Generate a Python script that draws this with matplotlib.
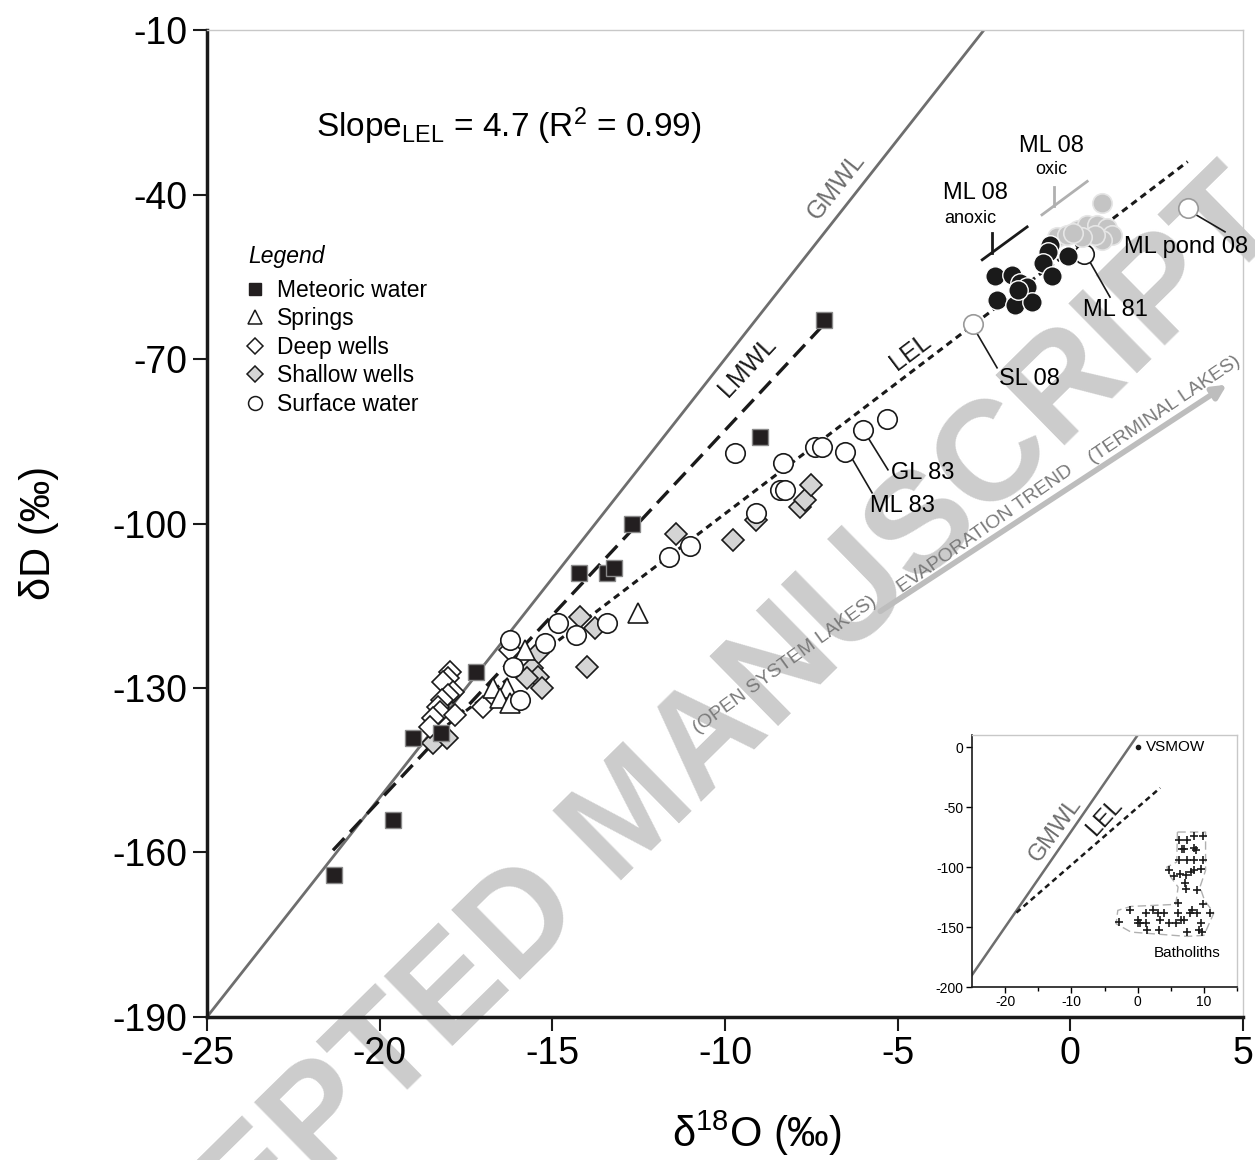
import numpy as np
import matplotlib.pyplot as plt
from matplotlib.lines import Line2D

plt.rcParams['font.family'] = ['Liberation Sans', 'DejaVu Sans']
plt.rcParams['mathtext.fontset'] = 'custom'
plt.rcParams['mathtext.rm'] = 'Liberation Sans'
plt.rcParams['mathtext.it'] = 'Liberation Sans:italic'
plt.rcParams['axes.unicode_minus'] = False

# ---- data (d18O, dD) ----
met_x = [-21.32, -19.61, -19.03, -18.22, -17.21, -14.23, -13.42, -13.21, -12.69, -8.99, -7.13]
met_y = [-164.1, -154.1, -139.1, -138.2, -127.1, -109.0, -109.0, -108.1, -100.1, -84.2, -62.9]

spr_x = [-15.79, -16.72, -16.31, -16.51, -16.23, -12.52]
spr_y = [-123.1, -130.0, -130.0, -131.8, -132.7, -116.3]

deep_x = [-17.96, -18.02, -18.17, -17.88, -18.02, -18.19, -18.31, -18.25, -17.82, -18.45, -18.54, -17.01, -16.23]
deep_y = [-127.1, -128.2, -128.9, -130.7, -131.3, -132.2, -133.5, -134.4, -134.9, -135.5, -137.1, -133.5, -123.1]

shal_x = [-18.45, -18.05, -14.20, -13.76, -15.41, -15.59, -15.41, -15.30, -15.73, -14.00,
          -11.42, -9.77, -9.10, -7.83, -7.68, -7.51]
shal_y = [-140.0, -139.1, -117.1, -119.1, -123.6, -126.4, -128.0, -130.0, -128.2, -126.2,
          -101.9, -103.0, -99.4, -97.0, -95.7, -93.0]

surf_x = [-16.23, -15.21, -14.83, -14.31, -13.42, -16.14, -15.94, -11.62, -11.01, -9.71,
          -9.10, -8.41, -8.26, -8.32, -7.39, -7.19, -6.52, -6.00, -5.31, -2.82, 0.40, 3.41]
surf_y = [-121.3, -121.8, -118.2, -120.3, -118.2, -126.2, -132.2, -106.1, -104.1, -87.1,
          -98.1, -93.9, -93.9, -89.0, -86.1, -86.1, -87.0, -83.0, -80.9, -63.6, -50.9, -42.5]

anox_x = [-0.59, -0.64, -0.06, -0.79, -0.53, -2.18, -1.69, -1.46, -1.25, -2.12, -1.60, -1.11, -1.51]
anox_y = [-49.2, -50.5, -51.2, -52.5, -54.9, -54.9, -54.7, -56.1, -56.9, -59.2, -60.2, -59.6, -57.4]

oxic_x = [0.92, -0.38, -0.09, 0.22, 0.48, 0.77, 1.06, 1.21, 0.92, 0.72, 0.34, 0.08]
oxic_y = [-41.6, -47.8, -47.4, -46.5, -45.6, -45.6, -46.1, -47.4, -48.3, -47.4, -47.8, -47.0]

lmwl_x = [-21.35, -6.96]
lmwl_y = [-159.6, -62.5]
lel_x = [-18.3, 3.4]
lel_y = [-138.0, -34.0]
gmwl_x = np.array([-25.0, 0.0])
gmwl_y = 8 * gmwl_x + 10

# labelled samples: (name, text x, text y, leader start, leader end)
labels = [
    ('ML pond 08', 3.35, -49.6, (3.56, -43.4), (4.48, -46.8)),
    ('ML 81', 1.32, -61.1, (0.57, -52.3), (1.15, -58.7)),
    ('SL 08', -1.17, -73.7, (-2.76, -64.7), (-2.12, -71.6)),
    ('ML 83', -4.87, -96.8, (-6.38, -87.5), (-5.74, -94.4)),
    ('GL 83', -4.26, -90.8, (-5.94, -83.5), (-5.28, -90.2)),
]

# inset: batholith samples
bath_x = [6.25, 7.4, 8.5, 9.9, 6.75, 7.0, 8.5, 8.85, 6.25, 7.4, 8.5, 9.9, 4.75, 5.5, 6.4, 7.25,
          8.0, 8.5, 9.5, 7.1, 7.25, 8.9, -1.1, 1.25, 2.25, 3.0, 3.9, -2.75, 0.1, 0.4, 1.25, 3.4,
          4.75, 5.75, 6.1, 6.1, 6.5, 7.0, 7.9, 8.25, 9.0, 9.9, 10.9, 9.6, 9.25, 9.75, 7.4, 3.25,
          1.4, 0.0]
bath_y = [-77.2, -77.2, -74.4, -74.4, -84.7, -84.7, -83.9, -85.6, -93.9, -93.9, -93.9, -93.9,
          -102.2, -107.8, -106.1, -106.4, -104.2, -102.2, -101.4, -113.3, -118.1, -118.9,
          -135.6, -138.3, -135.6, -138.3, -138.3, -145.8, -144.4, -146.7, -146.7, -144.4,
          -146.7, -146.7, -138.3, -130.0, -144.4, -144.4, -138.3, -135.6, -138.3, -130.6,
          -138.3, -146.7, -152.2, -154.2, -154.2, -152.2, -152.2, -146.7]
bath_out_x = [6.0, 10.25, 10.25, 9.4, 10.1, 11.5, 10.0, 7.5, -1.0, -3.25, -3.0, -1.0, 5.75, 6.1,
              5.0, 4.4, 5.9, 6.0]
bath_out_y = [-70.8, -70.8, -102.8, -116.7, -127.8, -138.3, -156.9, -157.8, -154.2, -147.2,
              -136.1, -132.8, -131.1, -116.7, -108.3, -100.0, -95.8, -70.8]

fig = plt.figure(figsize=(12.55, 11.6), dpi=100)
ax = fig.add_axes([0.1649, 0.1233, 0.8255, 0.8508])
ax.set_facecolor('none')

# watermark
fig.text(0.505, 0.296, 'ACCEPTED MANUSCRIPT', rotation=44.5, rotation_mode='anchor',
         ha='center', va='center', fontsize=102, weight='bold', color='#cccccc', zorder=-1)

# reference lines
ax.plot(gmwl_x, gmwl_y, color='#6e6e6e', lw=2, zorder=2)
ax.plot(lmwl_x, lmwl_y, color='#1a1a1a', lw=2.4, ls=(0, (5, 2.5)), zorder=2)
ax.plot(lel_x, lel_y, color='#1a1a1a', lw=2.2, ls=(0, (2.2, 1.6)), zorder=2)

# points
ax.plot(shal_x, shal_y, 'D', ms=11, mfc='#d4d4d4', mec='#1a1a1a', mew=1.2, ls='none', zorder=3)
ax.plot(deep_x, deep_y, 'D', ms=11, mfc='white', mec='#1a1a1a', mew=1.2, ls='none', zorder=3)
ax.plot(spr_x, spr_y, '^', ms=14, mfc='white', mec='#1a1a1a', mew=1.2, ls='none', zorder=3)
ax.plot(surf_x[:-3] + [surf_x[-2]], surf_y[:-3] + [surf_y[-2]], 'o', ms=14, mfc='white',
        mec='#1a1a1a', mew=1.2, ls='none', zorder=4)
ax.plot([surf_x[-3], surf_x[-1]], [surf_y[-3], surf_y[-1]], 'o', ms=14, mfc='white',
        mec='#9a9a9a', mew=1.2, ls='none', zorder=4)
ax.plot(oxic_x, oxic_y, 'o', ms=14, mfc='#c4c4c4', mec='#e6e6e6', mew=1.2, ls='none', zorder=4)
ax.plot(anox_x, anox_y, 'o', ms=14, mfc='#1a1a1a', mec='white', mew=1.0, ls='none', zorder=4)
ax.plot(met_x, met_y, 's', ms=12, mfc='#231f20', mec='#8a8a8a', mew=1.0, ls='none', zorder=5)

# line labels
ax.text(-6.78, -38.5, 'GMWL', rotation=51.8, rotation_mode='anchor', ha='center', va='center',
        fontsize=18, color='#6e6e6e')
ax.text(-9.35, -71.5, 'LMWL', rotation=47, rotation_mode='anchor', ha='center', va='center',
        fontsize=18, color='#1a1a1a')
ax.text(-4.64, -68.7, 'LEL', rotation=37, rotation_mode='anchor', ha='center', va='center',
        fontsize=18, color='#1a1a1a')
ax.text(-16.25, -27.5, r'Slope$_{\mathregular{LEL}}$ = 4.7 (R$^{\mathregular{2}}$ = 0.99)',
        ha='center', va='center', fontsize=24)

# sample labels with leader lines
for name, tx, ty, p0, p1 in labels:
    ax.plot([p0[0], p1[0]], [p0[1], p1[1]], color='#1a1a1a', lw=1.2, zorder=3)
    ax.text(tx, ty, name, ha='center', va='center', fontsize=17, zorder=6)

# ML 08 group marks
ax.plot([-2.55, -1.25], [-51.9, -45.9], color='#1a1a1a', lw=2)
ax.plot([-2.27, -2.27], [-47.0, -50.6], color='#1a1a1a', lw=2)
ax.plot([-0.82, 0.49], [-43.7, -37.6], color='#b0b0b0', lw=2)
ax.plot([-0.47, -0.47], [-38.6, -42.1], color='#b0b0b0', lw=2)
ax.text(-2.76, -39.7, 'ML 08', ha='center', va='center', fontsize=17)
ax.text(-2.9, -44.3, 'anoxic', ha='center', va='center', fontsize=13)
ax.text(-0.56, -31.2, 'ML 08', ha='center', va='center', fontsize=17)
ax.text(-0.56, -35.5, 'oxic', ha='center', va='center', fontsize=13)

# evaporation trend arrow
ax.annotate('', xy=(4.60, -74.4), xytext=(-5.57, -116.3),
            arrowprops=dict(arrowstyle='-|>', color='#bdbdbd', lw=4, mutation_scale=20))
ax.text(-8.26, -125.8, '(OPEN SYSTEM LAKES)', rotation=36, rotation_mode='anchor',
        ha='center', va='center', fontsize=14, color='#7a7a7a')
ax.text(-2.47, -101.0, 'EVAPORATION TREND', rotation=35, rotation_mode='anchor',
        ha='center', va='center', fontsize=14, color='#7a7a7a')
ax.text(2.74, -79.3, '(TERMINAL LAKES)', rotation=34, rotation_mode='anchor',
        ha='center', va='center', fontsize=14, color='#7a7a7a')

# legend
handles = [
    Line2D([], [], marker='s', ms=9, mfc='#231f20', mec='#231f20', ls='none'),
    Line2D([], [], marker='^', ms=10, mfc='white', mec='#1a1a1a', mew=1.1, ls='none'),
    Line2D([], [], marker='D', ms=8, mfc='white', mec='#1a1a1a', mew=1.1, ls='none'),
    Line2D([], [], marker='D', ms=8, mfc='#d4d4d4', mec='#1a1a1a', mew=1.1, ls='none'),
    Line2D([], [], marker='o', ms=10, mfc='white', mec='#1a1a1a', mew=1.1, ls='none'),
]
names = ['Meteoric water', 'Springs', 'Deep wells', 'Shallow wells', 'Surface water']
ax.text(0.0396, 0.771, 'Legend', transform=ax.transAxes, ha='left', va='center',
        fontsize=16.5, style='italic')
leg = ax.legend(handles, names, loc='upper left', bbox_to_anchor=(0.038, 0.748), frameon=False,
                fontsize=16.5, handlelength=0.8, handletextpad=0.55, labelspacing=0.24,
                borderpad=0, borderaxespad=0)

# axes styling
ax.set_xlim(-25, 5)
ax.set_ylim(-190, -10)
ax.set_xticks(np.arange(-25, 6, 5))
ax.set_yticks(np.arange(-190, -9, 30))
for s in ['top', 'right']:
    ax.spines[s].set_color('#c8c8c8')
    ax.spines[s].set_linewidth(1)
for s in ['left', 'bottom']:
    ax.spines[s].set_color('#1a1a1a')
    ax.spines[s].set_linewidth(2.5)
ax.tick_params(direction='out', length=10, width=1.5, labelsize=27, pad=4, color='#1a1a1a')
ax.set_xlabel(r'$\mathregular{\delta^{18}}$O (‰)', fontsize=30)
ax.set_ylabel('δD (‰)', fontsize=30)
ax.xaxis.set_label_coords(0.531, -0.093)
ax.yaxis.set_label_coords(-0.143, 0.49)

# inset
ins = fig.add_axes([0.7745, 0.1491, 0.2112, 0.2172])
ins.plot(gmwl_x, gmwl_y, color='#6e6e6e', lw=1.8)
ins.plot(lel_x, lel_y, color='#1a1a1a', lw=1.8, ls=(0, (2.2, 1.6)))
ins.plot(bath_out_x, bath_out_y, color='#b0b0b0', lw=1.0, ls=(0, (6, 3)))
ins.plot(bath_x, bath_y, '+', ms=6, mew=1.2, color='#1a1a1a', ls='none')
ins.plot([0], [0], 'o', ms=3, color='#1a1a1a')
ins.text(1.2, 0, 'VSMOW', ha='left', va='center', fontsize=11)
ins.text(7.5, -172, 'Batholiths', ha='center', va='center', fontsize=11)
ins.text(-12.4, -69, 'GMWL', rotation=54, rotation_mode='anchor', ha='center', va='center',
         fontsize=17, color='#6e6e6e')
ins.text(-5.0, -59, 'LEL', rotation=48, rotation_mode='anchor', ha='center', va='center',
         fontsize=17, color='#1a1a1a')
ins.set_xlim(-25, 15)
ins.set_ylim(-200, 10)
ins.set_xticks([-20, -10, 0, 10])
ins.set_xticks([-15, -5, 5, 15], minor=True)
ins.set_yticks([0, -50, -100, -150, -200])
for s in ['top', 'right']:
    ins.spines[s].set_color('#c8c8c8')
    ins.spines[s].set_linewidth(1)
for s in ['left', 'bottom']:
    ins.spines[s].set_color('#1a1a1a')
    ins.spines[s].set_linewidth(1.2)
ins.tick_params(direction='out', length=4, width=1, labelsize=10, pad=2)
ins.tick_params(which='minor', direction='out', length=3, width=1)

fig.savefig('out.png', dpi=100)
